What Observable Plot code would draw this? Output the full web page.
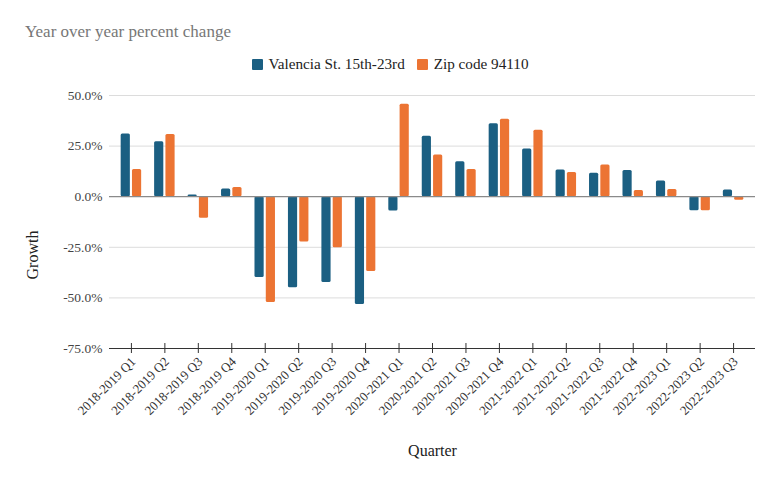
<!DOCTYPE html>
<html>
<head>
<meta charset="utf-8">
<script src="https://cdn.jsdelivr.net/npm/d3@7"></script>
<script src="https://cdn.jsdelivr.net/npm/@observablehq/plot@0.6"></script>
<style>
  body { margin: 0; background: #fff; font-family: "Liberation Serif", "DejaVu Serif", serif; }
  #wrap { width: 780px; height: 483px; position: relative; }
  #title { position: absolute; left: 25px; top: 22px; font-size: 17px; color: #777; }
  #legend { position: absolute; left: 0; width: 780px; top: 55px; text-align: center; font-size: 15.2px; color: #222; }
  #legend span.sw { display: inline-block; width: 11px; height: 11px; margin-right: 6px; vertical-align: -1px; border-radius: 1px; }
  #legend span.it { margin: 0 6px; }
  #chart { position: absolute; left: 0; top: 80px; }
</style>
</head>
<body>
<div id="wrap">
  <div id="title">Year over year percent change</div>
  <div id="legend"></div>
  <div id="chart"></div>
</div>
<script>
const quarters = [
  "2018-2019 Q1","2018-2019 Q2","2018-2019 Q3","2018-2019 Q4",
  "2019-2020 Q1","2019-2020 Q2","2019-2020 Q3","2019-2020 Q4",
  "2020-2021 Q1","2020-2021 Q2","2020-2021 Q3","2020-2021 Q4",
  "2021-2022 Q1","2021-2022 Q2","2021-2022 Q3","2021-2022 Q4",
  "2022-2023 Q1","2022-2023 Q2","2022-2023 Q3"
];
const valencia = [31.0, 27.2, 0.8, 3.8, -39.9, -45.0, -42.4, -53.3, -7.1, 29.9, 17.3, 36.1, 23.6, 13.2, 11.6, 12.9, 7.8, -6.9, 3.3];
const zip94110 = [13.4, 30.7, -10.6, 4.6, -52.3, -22.4, -25.2, -37.0, 45.7, 20.6, 13.5, 38.3, 32.8, 11.9, 15.7, 3.1, 3.6, -6.9, -1.8];
const seriesNames = ["Valencia St. 15th-23rd", "Zip code 94110"];
const seriesColors = ["#1b5f82", "#ec7433"];
const yTicks = [-75, -50, -25, 0, 25, 50];

const rowsA = quarters.map((q, i) => ({quarter: q, value: valencia[i], series: seriesNames[0]}));
const rowsB = quarters.map((q, i) => ({quarter: q, value: zip94110[i], series: seriesNames[1]}));

// legend
const legend = document.getElementById("legend");
seriesNames.forEach((n, i) => {
  const it = document.createElement("span");
  it.className = "it";
  it.innerHTML = `<span class="sw" style="background:${seriesColors[i]}"></span>${n}`;
  legend.appendChild(it);
});

const serif = "'Liberation Serif', serif";
// band = 69% of step; two bars of ~9.3px side by side around the band centre
const barA = {x: "quarter", y: "value", fill: "series", rx: 1.5, insetLeft: 1.3, insetRight: 12.6};
const barB = {x: "quarter", y: "value", fill: "series", rx: 1.5, insetLeft: 12.6, insetRight: 1.3};

const chart = Plot.plot({
  width: 780,
  height: 403,
  marginTop: 15,
  marginBottom: 135,
  marginLeft: 109,
  marginRight: 25,
  style: {fontFamily: serif, fontSize: "13px", color: "#444", background: "#fff"},
  x: {domain: quarters, padding: 0.31, round: false, label: null},
  y: {domain: [-75, 50], label: null},
  color: {domain: seriesNames, range: seriesColors},
  marks: [
    Plot.ruleY(yTicks.filter(d => d !== 0 && d !== -75), {stroke: "#dcdcdc", strokeWidth: 1}),
    Plot.barY(rowsA, barA),
    Plot.barY(rowsB, barB),
    Plot.ruleY([0], {stroke: "#8a8a8a", strokeWidth: 1.3}),
    Plot.ruleY([-75], {stroke: "#333", strokeWidth: 1}),
    Plot.axisY({ticks: yTicks, tickFormat: d => d.toFixed(1) + "%", tickSize: 0, tickPadding: 7, fill: "#444",
      fontFamily: serif, fontSize: 13.5, label: null}),
    Plot.text(["Growth"], {text: d => d, frameAnchor: "left", textAnchor: "middle", rotate: -90, dx: -77, dy: 33,
      fontFamily: serif, fontSize: 16, fill: "#222"}),
    Plot.axisX({tickSize: 10, dy: -5, stroke: "#333", tickFormat: () => "", label: null}),
    Plot.axisX({tickRotate: -45, tickSize: 0, tickPadding: 11, dx: 2, fill: "#333",
      fontFamily: serif, fontSize: 13, label: null}),
    Plot.axisX({ticks: [], fontFamily: serif, fontSize: 16, fill: "#222",
      label: "Quarter", labelAnchor: "center", labelArrow: "none", labelOffset: 107})
  ]
});
document.getElementById("chart").appendChild(chart);
</script>
</body>
</html>
